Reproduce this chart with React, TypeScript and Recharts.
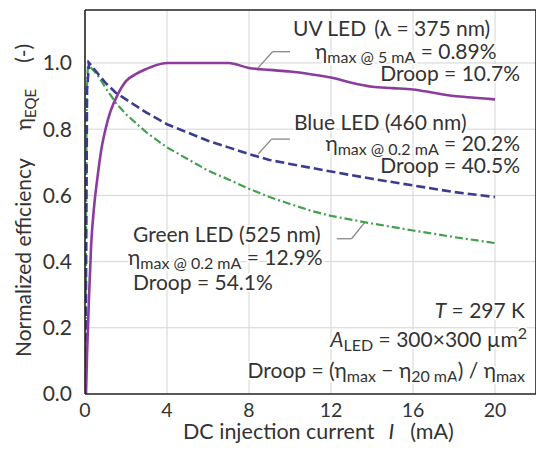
import React from 'react';
import { LineChart, Line, XAxis, YAxis, ReferenceLine } from 'recharts';

// ---- data ----
const uvCurrent = [0.05, 0.1, 0.2, 0.3, 0.45, 0.6, 0.8, 1.0, 1.25, 1.6, 2.0, 2.5, 3.0, 3.5, 4.0, 5.0, 6.0, 7.0, 8.0, 9.0, 10, 11, 12, 13, 14, 15, 16, 17, 18, 19, 20];
const uvEff = [0.0, 0.12, 0.3, 0.45, 0.57, 0.65, 0.74, 0.8, 0.855, 0.905, 0.945, 0.967, 0.982, 0.994, 1.0, 1.0, 1.0, 1.0, 0.985, 0.979, 0.974, 0.966, 0.956, 0.94, 0.928, 0.924, 0.92, 0.91, 0.9, 0.895, 0.89];

const blueCurrent = [0.02, 0.1, 0.2, 0.4, 0.7, 1.0, 1.5, 2.0, 3.0, 4.0, 5.0, 6.0, 7.0, 8.0, 9.0, 10, 12, 14, 16, 18, 20];
const blueEff = [0.0, 0.92, 1.0, 0.985, 0.962, 0.94, 0.91, 0.89, 0.85, 0.815, 0.79, 0.765, 0.745, 0.725, 0.707, 0.695, 0.672, 0.65, 0.63, 0.61, 0.595];

const greenCurrent = [0.02, 0.08, 0.15, 0.3, 0.6, 1.0, 1.5, 2.0, 3.0, 4.0, 5.0, 6.0, 7.0, 8.0, 9.0, 10, 11, 12, 14, 16, 18, 20];
const greenEff = [0.0, 0.9, 1.0, 0.985, 0.965, 0.925, 0.88, 0.845, 0.79, 0.745, 0.71, 0.675, 0.648, 0.62, 0.595, 0.574, 0.554, 0.538, 0.515, 0.494, 0.474, 0.456];

const xTicks = [0, 4, 8, 12, 16, 20];
const xGrid = [4, 8, 12, 16, 20];
const xMinorTicks = [2, 4, 6, 8, 10, 12, 14, 16, 18, 20];
const yTicks = [0, 0.2, 0.4, 0.6, 0.8, 1.0];
const yGrid = [0.2, 0.4, 0.6, 0.8, 1.0];
const yMinorTicks = [0.1, 0.2, 0.3, 0.4, 0.5, 0.6, 0.7, 0.8, 0.9, 1.0, 1.1];

// leader lines (data coordinates)
const uvLeader = [{ x: 8.45, y: 0.986 }, { x: 9.15, y: 1.034 }, { x: 10.0, y: 1.034 }];
const blueLeader = [{ x: 8.45, y: 0.725 }, { x: 9.1, y: 0.77 }, { x: 10.0, y: 0.77 }];
const greenLeader = [{ x: 13.66, y: 0.519 }, { x: 13.0, y: 0.469 }, { x: 12.28, y: 0.469 }];

const toRows = (xs: number[], ys: number[]) => xs.map((x, i) => ({ x, y: ys[i] }));
const uvData = toRows(uvCurrent, uvEff);
const blueData = toRows(blueCurrent, blueEff);
const greenData = toRows(greenCurrent, greenEff);

const PURPLE = '#8c3c9c';
const BLUE = '#3a3c90';
const GREEN = '#42a04e';
const FONT = 'Lato, "Open Sans", sans-serif';
const TXT = '#333';
const GRID = '#d4d4d4';

const halo = { paintOrder: 'stroke' as const, stroke: '#fff', strokeWidth: 4, strokeLinejoin: 'round' as const };

const SUB = 16;
const SUB_DY = 3.5;
const Sub = ({ children }: { children: React.ReactNode }) => (
  <tspan fontSize={SUB} dy={SUB_DY}>{children}</tspan>
);
const Up = ({ children }: { children: React.ReactNode }) => (
  <tspan dy={-SUB_DY}>{children}</tspan>
);

const Annotations = () => (
  <svg width={536} height={452} style={{ position: 'absolute', left: 0, top: 0, pointerEvents: 'none' }}>
    <g fontFamily={FONT} fill={TXT} fontSize={21}>
      <text x={293} y={36} {...halo}>UV LED<tspan dx={8}>(λ = 375 nm)</tspan></text>
      <text x={315} y={59} {...halo}>η<Sub>max @ 5 mA</Sub><Up> = 0.89%</Up></text>
      <text x={520} y={81} textAnchor="end" {...halo}>Droop = 10.7%</text>

      <text x={294} y={130} {...halo}>Blue LED (460 nm)</text>
      <text x={520} y={151} textAnchor="end" {...halo}>η<Sub>max @ 0.2 mA</Sub><Up> = 20.2%</Up></text>
      <text x={520} y={173} textAnchor="end" {...halo}>Droop = 40.5%</text>

      <text x={133} y={242} {...halo}>Green LED (525 nm)</text>
      <text x={128} y={265} {...halo}>η<Sub>max @ 0.2 mA</Sub><Up> = 12.9%</Up></text>
      <text x={133} y={290} {...halo}>Droop = 54.1%</text>

      <text x={525} y={318} textAnchor="end" {...halo}><tspan fontStyle="italic">T</tspan> = 297 K</text>
      <text x={527} y={347} textAnchor="end" {...halo}><tspan fontStyle="italic">A</tspan><Sub>LED</Sub><Up> = 300×300 µm</Up><tspan fontSize={SUB} dy={-8}>2</tspan></text>
      <text x={525} y={378} textAnchor="end" {...halo}>Droop = (η<Sub>max</Sub><Up> − η</Up><Sub>20 mA</Sub><Up>) / η</Up><Sub>max</Sub></text>

      {/* axis titles */}
      <text x={183} y={439} fontSize={21.5}>DC injection current<tspan dx={14} fontStyle="italic">I</tspan><tspan dx={16}>(mA)</tspan></text>
      <text transform="translate(31, 357) rotate(-90)" fontSize={21}>
        Normalized efficiency<tspan dx={28}>η</tspan><tspan fontSize={15} dy={5}>EQE</tspan><tspan dx={26} dy={-5}>(-)</tspan>
      </text>
    </g>
  </svg>
);

export default function App() {
  return (
    <div style={{ width: 536, height: 452, background: '#fff', position: 'relative' }}>
      <style>{'body{margin:0;}'}</style>
      <LineChart width={536} height={452} margin={{ top: 10, right: 0, bottom: 0, left: 0 }}>
        <XAxis xAxisId="x" dataKey="x" type="number" domain={[0, 22]} ticks={xTicks} height={58}
          axisLine={{ stroke: '#222', strokeWidth: 1.6 }} tickLine={false} tickMargin={3}
          tick={{ fontSize: 19.5, fill: TXT, fontFamily: FONT }} allowDataOverflow />
        <XAxis xAxisId="xb" dataKey="x" type="number" domain={[0, 22]} ticks={xMinorTicks} orientation="bottom" mirror
          axisLine={false} tick={false} tickSize={4} tickLine={{ stroke: '#222', strokeWidth: 1.5 }} allowDataOverflow />
        <XAxis xAxisId="xt" dataKey="x" type="number" domain={[0, 22]} ticks={xMinorTicks} orientation="top" mirror
          axisLine={{ stroke: '#222', strokeWidth: 1.6 }} tick={false} tickSize={4} tickLine={{ stroke: '#222', strokeWidth: 1.5 }} allowDataOverflow />
        <YAxis yAxisId="y" type="number" domain={[0, 1.16]} ticks={yTicks} width={85}
          axisLine={{ stroke: '#222', strokeWidth: 1.6 }} tickLine={false} tickMargin={7}
          tickFormatter={(v: number) => v.toFixed(1)}
          tick={{ fontSize: 21, fill: TXT, fontFamily: FONT }} allowDataOverflow />
        <YAxis yAxisId="yl" type="number" domain={[0, 1.16]} ticks={yMinorTicks} orientation="left" mirror
          axisLine={false} tick={false} tickSize={4} tickLine={{ stroke: '#222', strokeWidth: 1.5 }} allowDataOverflow />
        <YAxis yAxisId="yr" type="number" domain={[0, 1.16]} ticks={yMinorTicks} orientation="right" mirror
          axisLine={{ stroke: '#222', strokeWidth: 1.6 }} tick={false} tickSize={4} tickLine={{ stroke: '#222', strokeWidth: 1.5 }} allowDataOverflow />

        {xGrid.map((v) => (
          <ReferenceLine key={`gx${v}`} xAxisId="x" yAxisId="y" x={v} stroke={GRID} strokeWidth={1} />
        ))}
        {yGrid.map((v) => (
          <ReferenceLine key={`gy${v}`} xAxisId="x" yAxisId="y" y={v} stroke={GRID} strokeWidth={1} />
        ))}

        <ReferenceLine xAxisId="x" yAxisId="y" segment={[uvLeader[0], uvLeader[1]]} stroke="#888" strokeWidth={1.3} ifOverflow="visible" />
        <ReferenceLine xAxisId="x" yAxisId="y" segment={[uvLeader[1], uvLeader[2]]} stroke="#888" strokeWidth={1.3} ifOverflow="visible" />
        <ReferenceLine xAxisId="x" yAxisId="y" segment={[blueLeader[0], blueLeader[1]]} stroke="#888" strokeWidth={1.3} ifOverflow="visible" />
        <ReferenceLine xAxisId="x" yAxisId="y" segment={[blueLeader[1], blueLeader[2]]} stroke="#888" strokeWidth={1.3} ifOverflow="visible" />
        <ReferenceLine xAxisId="x" yAxisId="y" segment={[greenLeader[0], greenLeader[1]]} stroke="#888" strokeWidth={1.3} ifOverflow="visible" />
        <ReferenceLine xAxisId="x" yAxisId="y" segment={[greenLeader[1], greenLeader[2]]} stroke="#888" strokeWidth={1.3} ifOverflow="visible" />

        <Line xAxisId="x" yAxisId="y" data={greenData} dataKey="y" type="linear" stroke={GREEN} strokeWidth={2.2}
          strokeDasharray="8 3 2 3" dot={false} isAnimationActive={false} />
        <Line xAxisId="x" yAxisId="y" data={blueData} dataKey="y" type="linear" stroke={BLUE} strokeWidth={2.6}
          strokeDasharray="9 4" dot={false} isAnimationActive={false} />
        <Line xAxisId="x" yAxisId="y" data={uvData} dataKey="y" type="monotone" stroke={PURPLE} strokeWidth={2.6}
          dot={false} isAnimationActive={false} />
      </LineChart>
      <Annotations />
    </div>
  );
}
